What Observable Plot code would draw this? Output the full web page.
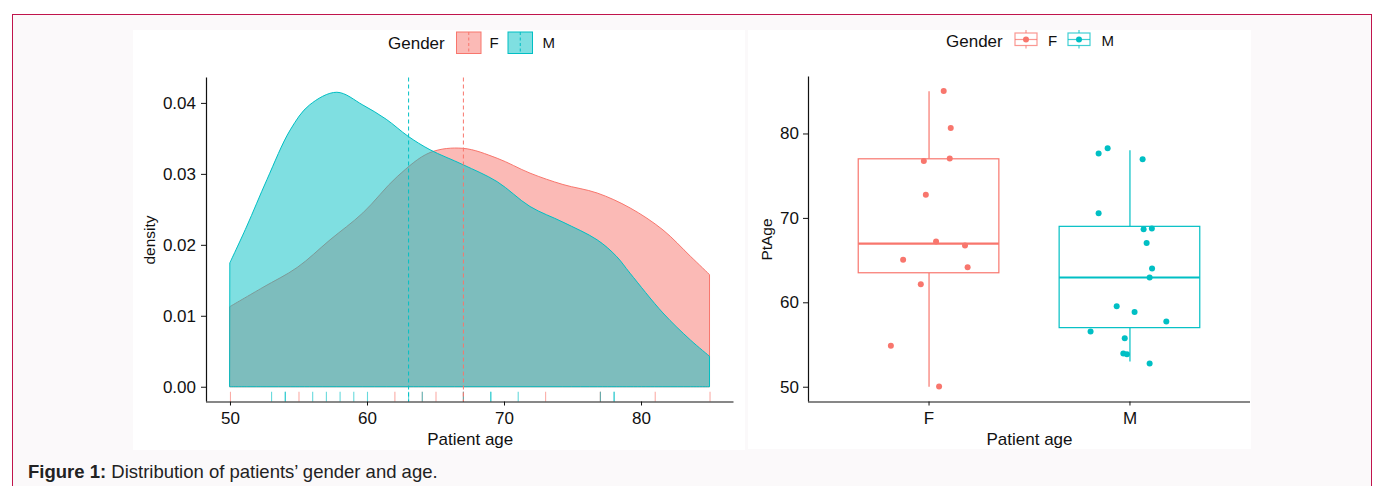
<!DOCTYPE html>
<html>
<head>
<meta charset="utf-8">
<script src="https://cdn.jsdelivr.net/npm/d3@7"></script>
<script src="https://cdn.jsdelivr.net/npm/@observablehq/plot@0.6"></script>
<style>
html,body{margin:0;padding:0;background:#fff;width:1375px;height:486px;overflow:hidden;font-family:"Liberation Sans",Arial,sans-serif;}
#frame{position:absolute;left:12px;top:14px;width:1360px;height:520px;border:1.5px solid #c0144c;background:#fbf9fa;box-sizing:border-box;}
.panel{position:absolute;background:#fff;overflow:visible;}
.panel svg{overflow:visible;position:absolute;left:0;top:0;}
#left{left:133px;top:30px;width:612px;height:420px;}
#right{left:748px;top:30px;width:503px;height:419px;}
#caption{position:absolute;left:28px;top:461px;font-size:18.5px;color:#222;white-space:nowrap;}
</style>
</head>
<body>
<div id="frame"></div>
<div class="panel" id="left"></div>
<div class="panel" id="right"></div>
<div id="caption"><b>Figure 1:</b> Distribution of patients’ gender and age.</div>
<script>
// ---------------- data ----------------
const genders = ["F", "M"];
const genderColors = ["#F8766D", "#00BFC4"];

// Patient ages (as shown by the rug and box plot)
const femaleAges = [85, 81, 77, 77, 73, 67, 67, 65, 64, 62, 55, 50];
const maleAges = [78, 78, 77, 71, 69, 69, 67, 64, 63, 60, 59, 58, 57, 56, 54, 54, 53];

// Jittered point values (age as drawn, horizontal jitter in category units)
const femalePointAge = [85.1, 80.7, 76.8, 77.1, 72.8, 67.25, 66.8, 65.1, 64.2, 62.2, 54.9, 50.1];
const femalePointJitter = [0.073, 0.108, -0.026, 0.103, -0.016, 0.035, 0.179, -0.129, 0.192, -0.041, -0.19, 0.05];
const malePointAge = [78.3, 77.7, 77.0, 70.6, 68.7, 68.8, 67.1, 64.05, 63.0, 59.6, 58.9, 57.8, 56.6, 55.8, 54.0, 53.9, 52.8];
const malePointJitter = [-0.111, -0.156, 0.063, -0.156, 0.068, 0.109, 0.083, 0.11, 0.098, -0.066, 0.023, 0.181, -0.196, -0.026, -0.033, -0.015, 0.098];

// Density curves
const femaleDensAge = [50, 52.4, 54.9, 57.3, 59.7, 62.2, 64.6, 67, 69.5, 71.9, 74.3, 76.8, 79.2, 81.6, 83.6, 85];
const femaleDens = [0.0113, 0.0140, 0.0168, 0.0207, 0.0245, 0.0296, 0.0330, 0.0336, 0.0322, 0.0301, 0.0285, 0.0273, 0.0252, 0.0221, 0.0184, 0.0158];
const maleDensAge = [50, 51.2, 52.7, 54.4, 55.8, 57.8, 59.7, 61.4, 63, 64.6, 67, 69.5, 71.9, 74.3, 76.8, 78.2, 79.2, 81.6, 83.6, 85];
const maleDens = [0.0175, 0.0225, 0.0292, 0.0362, 0.0397, 0.0415, 0.0397, 0.0377, 0.0353, 0.0334, 0.0313, 0.0289, 0.0254, 0.0232, 0.0207, 0.0184, 0.0160, 0.0104, 0.0066, 0.0043];

const densTicks = [0, 0.01, 0.02, 0.03, 0.04];
const ageTicks = [50, 60, 70, 80];
const boxAgeTicks = [50, 60, 70, 80];

// ---------------- tables ----------------
const densF = femaleDensAge.map((a, i) => ({age: a, density: femaleDens[i], gender: "F"}));
const densM = maleDensAge.map((a, i) => ({age: a, density: maleDens[i], gender: "M"}));
const rug = [...femaleAges.map(a => ({age: a, gender: "F"})), ...maleAges.map(a => ({age: a, gender: "M"}))];
const points = [
  ...femalePointAge.map((a, i) => ({gender: "F", pos: 1, age: a, jitter: femalePointJitter[i]})),
  ...malePointAge.map((a, i) => ({gender: "M", pos: 2, age: a, jitter: malePointJitter[i]}))
];
function stats(g, pos, ages) {
  const s = ages.slice().sort(d3.ascending);
  const q1 = d3.quantileSorted(s, 0.25), q3 = d3.quantileSorted(s, 0.75), med = d3.quantileSorted(s, 0.5);
  const iqr = q3 - q1;
  const lo = d3.min(s.filter(v => v >= q1 - 1.5 * iqr));
  const hi = d3.max(s.filter(v => v <= q3 + 1.5 * iqr));
  return {gender: g, pos, q1, q3, med, lo, hi};
}
const boxStats = [stats("F", 1, femaleAges), stats("M", 2, maleAges)];

const color = {domain: genders, range: genderColors};
const font = "Liberation Sans, Arial, Helvetica, sans-serif";

// ---------------- left: density ----------------
const xDom = [48.25, 86.75];
const yLo = -0.00208, yHi = 0.04358;
const left = Plot.plot({
  width: 612, height: 420,
  marginLeft: 73, marginRight: 11.5, marginTop: 47.5, marginBottom: 48.5,
  style: {background: "transparent", fontFamily: font, fontSize: "17px", color: "#111", overflow: "visible"},
  color,
  x: {domain: xDom, ticks: ageTicks, tickSize: 4, tickPadding: 6, label: null},
  y: {domain: [yLo, yHi], ticks: densTicks, tickFormat: d3.format(".2f"), tickSize: 5, tickPadding: 5.5, label: null},
  marks: [
    Plot.areaY(densF, {x: "age", y: "density", fill: "gender", fillOpacity: 0.5, stroke: "gender", strokeWidth: 1, curve: "catmull-rom"}),
    Plot.areaY(densM, {x: "age", y: "density", fill: "gender", fillOpacity: 0.5, stroke: "gender", strokeWidth: 1, curve: "catmull-rom"}),
    Plot.ruleX(rug, {x: "age", y1: yLo, y2: yLo + 0.03 * (yHi - yLo), stroke: "gender", strokeOpacity: 0.6, strokeWidth: 1.1}),
    Plot.ruleX(rug, Plot.groupZ({x: "median"}, {x: "age", z: "gender", stroke: "gender", strokeWidth: 1, strokeDasharray: "4,3"})),
    Plot.ruleX([xDom[0]], {stroke: "#111", strokeWidth: 1.2}),
    Plot.ruleY([yLo], {stroke: "#111", strokeWidth: 1.2}),
    Plot.text(["Patient age"], {frameAnchor: "bottom", dy: 30.5, lineAnchor: "top", textAnchor: "middle", fontSize: 17, fill: "#111"}),
    Plot.text(["density"], {frameAnchor: "left", dx: -56, rotate: -90, textAnchor: "middle", fontSize: 15.5, fill: "#111"})
  ]
});
document.getElementById("left").appendChild(left);

// ---------------- right: box plot ----------------
const half = 0.35;
const bDom = [48.25, 86.75];
const right = Plot.plot({
  width: 503, height: 419,
  marginLeft: 60, marginRight: 1, marginTop: 46.5, marginBottom: 47.5,
  style: {background: "transparent", fontFamily: font, fontSize: "17px", color: "#111", overflow: "visible"},
  color,
  x: {domain: [0.4, 2.6], ticks: [1, 2], tickFormat: d => genders[d - 1], tickSize: 4, tickPadding: 6, label: null},
  y: {domain: bDom, ticks: boxAgeTicks, tickSize: 5, tickPadding: 4.5, label: null},
  marks: [
    Plot.ruleX(boxStats, {x: "pos", y1: "q3", y2: "hi", stroke: "gender", strokeWidth: 1.2}),
    Plot.ruleX(boxStats, {x: "pos", y1: "lo", y2: "q1", stroke: "gender", strokeWidth: 1.2}),
    Plot.rect(boxStats, {x1: d => d.pos - half, x2: d => d.pos + half, y1: "q1", y2: "q3", fill: "white", stroke: "gender", strokeWidth: 1.2}),
    Plot.ruleY(boxStats, {x1: d => d.pos - half, x2: d => d.pos + half, y: "med", stroke: "gender", strokeWidth: 2.2}),
    Plot.dot(points, {x: d => d.pos + d.jitter, y: "age", r: 3, fill: "gender", stroke: null}),
    Plot.ruleX([0.4], {stroke: "#111", strokeWidth: 1.2}),
    Plot.ruleY([bDom[0]], {stroke: "#111", strokeWidth: 1.2}),
    Plot.text(["Patient age"], {frameAnchor: "bottom", dy: 31, lineAnchor: "top", textAnchor: "middle", fontSize: 17, fill: "#111"}),
    Plot.text(["PtAge"], {frameAnchor: "left", dx: -41.3, rotate: -90, textAnchor: "middle", fontSize: 15.5, fill: "#111"})
  ]
});
document.getElementById("right").appendChild(right);

// ---------------- legends ----------------
const NS = "http://www.w3.org/2000/svg";
function el(parent, tag, attrs, text) {
  const e = document.createElementNS(NS, tag);
  for (const k in attrs) e.setAttribute(k, attrs[k]);
  if (text != null) e.textContent = text;
  parent.appendChild(e);
  return e;
}
function legendSvg(container) {
  const s = document.createElementNS(NS, "svg");
  s.setAttribute("width", container.clientWidth);
  s.setAttribute("height", 70);
  s.style.position = "absolute"; s.style.left = "0"; s.style.top = "0"; s.style.overflow = "visible";
  s.style.fontFamily = font;
  container.appendChild(s);
  return s;
}
// left legend
{
  const s = legendSvg(document.getElementById("left"));
  el(s, "text", {x: 255, y: 19, "font-size": 17, fill: "#111"}, "Gender");
  const keys = [{x: 323.5, tx: 356.5}, {x: 375, tx: 409.5}];
  genders.forEach((g, i) => {
    const k = keys[i], c = genderColors[i];
    el(s, "rect", {x: k.x, y: 2, width: 24.5, height: 21.5, fill: c, "fill-opacity": 0.5, stroke: c, "stroke-width": 1});
    el(s, "line", {x1: k.x + 12.25, x2: k.x + 12.25, y1: 2, y2: 23.5, stroke: c, "stroke-dasharray": "3,2.5"});
    el(s, "text", {x: k.tx, y: 18, "font-size": 15, fill: "#111"}, g);
  });
}
// right legend
{
  const s = legendSvg(document.getElementById("right"));
  el(s, "text", {x: 198, y: 16.5, "font-size": 17, fill: "#111"}, "Gender");
  const keys = [{x: 267, tx: 300}, {x: 320, tx: 353.5}];
  genders.forEach((g, i) => {
    const k = keys[i], c = genderColors[i], cx = k.x + 11;
    el(s, "line", {x1: cx, x2: cx, y1: 0, y2: 18.5, stroke: c, "stroke-opacity": 0.75, "stroke-width": 1.2});
    el(s, "rect", {x: k.x, y: 3, width: 22, height: 12.5, fill: "white", stroke: c, "stroke-opacity": 0.75, "stroke-width": 1.2});
    el(s, "line", {x1: k.x, x2: k.x + 22, y1: 9.5, y2: 9.5, stroke: c, "stroke-opacity": 0.75, "stroke-width": 1.2});
    el(s, "circle", {cx: cx, cy: 9.5, r: 3, fill: c});
    el(s, "text", {x: k.tx, y: 16, "font-size": 15, fill: "#111"}, g);
  });
}
</script>
</body>
</html>
